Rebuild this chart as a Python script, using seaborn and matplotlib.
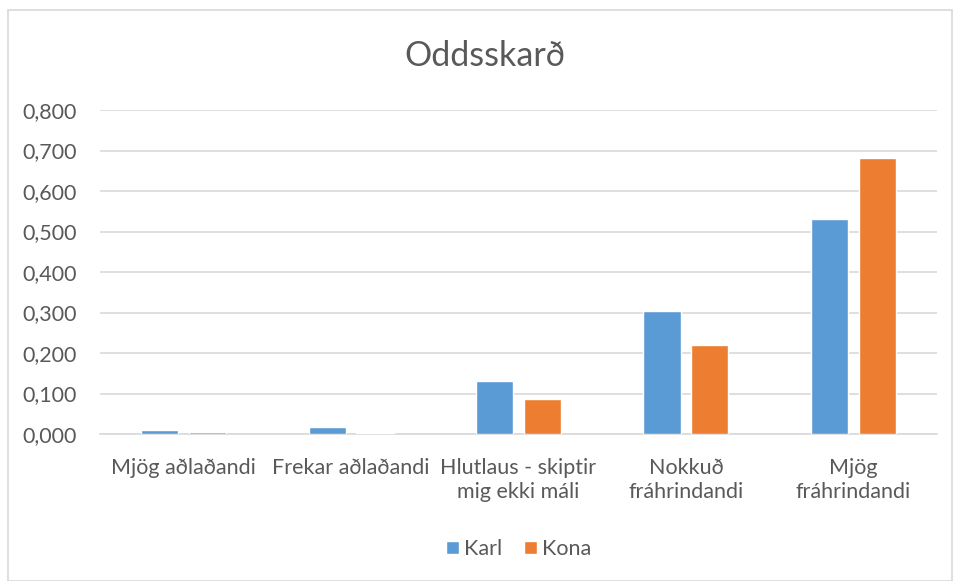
"""
Grouped bar chart: Oddsskarð, Karl vs Kona.
"""

import pandas as pd
import matplotlib.pyplot as plt
import seaborn as sns
from matplotlib.patches import Rectangle
from matplotlib.ticker import FuncFormatter

categories = ["Mjög aðlaðandi", "Frekar aðlaðandi", "Hlutlaus - skiptir\nmig ekki máli",
              "Nokkuð\nfráhrindandi", "Mjög\nfráhrindandi"]
karl = [0.011, 0.018, 0.132, 0.304, 0.532]
kona = [0.006, 0.003, 0.086, 0.219, 0.682]
series = ["Karl", "Kona"]
colors = ["#5B9BD5", "#ED7D31"]

df = pd.DataFrame({
    "flokkur": categories * 2,
    "kyn": ["Karl"] * len(karl) + ["Kona"] * len(kona),
    "gildi": karl + kona,
})

sns.set_theme(style="white")
plt.rcParams["font.family"] = ["Lato", "DejaVu Sans"]
text_col = "#595959"

fig = plt.figure(figsize=(9.54, 5.81), dpi=100)
ax = fig.add_axes([100 / 954, 1 - 434 / 581, 837 / 954, 324 / 581])

sns.barplot(data=df, x="flokkur", y="gildi", hue="kyn", hue_order=series,
            palette=colors, width=0.57, gap=0.22, saturation=1, ax=ax,
            zorder=3)

ax.set_ylim(0, 0.8)
ax.set_xlim(-0.5, len(categories) - 0.5)
ax.set_yticks([i / 10 for i in range(9)])
ax.yaxis.set_major_formatter(FuncFormatter(lambda v, _: f"{v:.3f}".replace(".", ",")))
ax.grid(axis="y", color="#D9D9D9", linewidth=1.2)
ax.set_axisbelow(True)
for s in ["left", "right", "top"]:
    ax.spines[s].set_visible(False)
ax.spines["bottom"].set_color("#D9D9D9")
ax.spines["bottom"].set_linewidth(1.2)
ax.spines["bottom"].set_zorder(1)
ax.tick_params(axis="both", length=0, labelsize=15.5, colors=text_col)
ax.tick_params(axis="x", pad=17)
ax.tick_params(axis="y", pad=17)
for lbl in ax.get_xticklabels():
    lbl.set_linespacing(1.3)
ax.set_xlabel("")
ax.set_ylabel("")

fig.text(0.508, 1 - 56 / 581, "Oddsskarð", ha="center", va="center",
         fontsize=24.5, color=text_col)

ax.legend(loc="center", bbox_to_anchor=(0.5, (434 - 549) / 324), ncol=2,
          frameon=False, fontsize=15.5, labelcolor=text_col, handlelength=0.6,
          handleheight=0.6, handletextpad=0.25, columnspacing=1.0)

fig.patches.append(Rectangle((8 / 954, 0), 944 / 954, 1 - 10 / 581,
                             transform=fig.transFigure, fill=False,
                             edgecolor="#D9D9D9", linewidth=1.2))

fig.savefig("out.png", dpi=100)
